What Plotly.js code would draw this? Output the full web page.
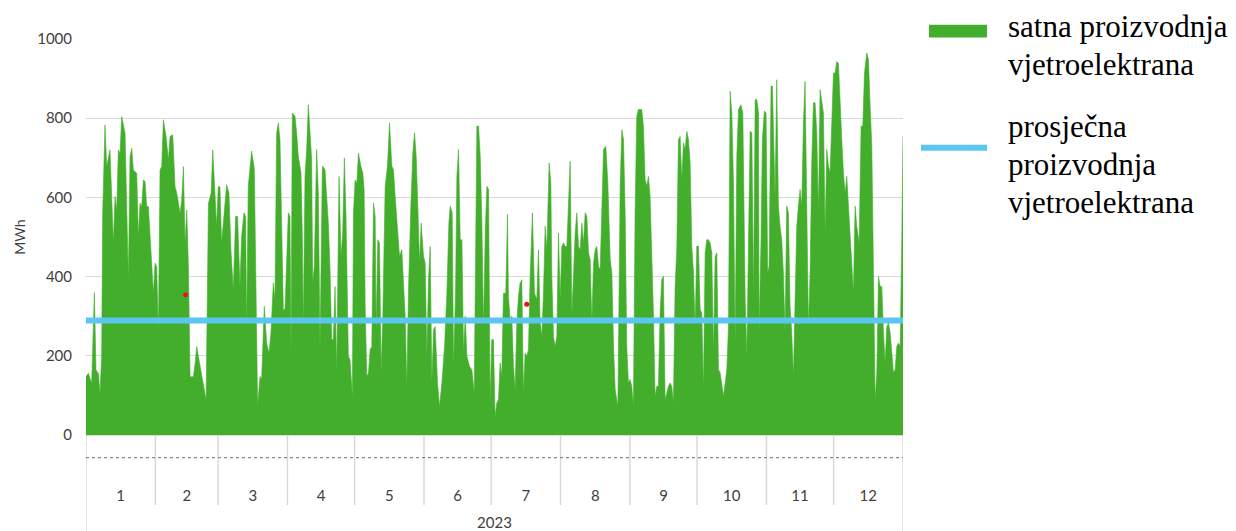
<!DOCTYPE html>
<html>
<head>
<meta charset="utf-8">
<script src="https://cdn.plot.ly/plotly-3.0.1.min.js"></script>
<style>html,body{margin:0;padding:0;background:#fff;}#chart{width:1236px;height:531px;}</style>
</head>
<body>
<div id="chart"></div>
<script>
// ---- data ----
const dayOfYear = [
0,1.04,2.53,3.28,3.73,4.47,5.51,6.26,7.0,7.45,8.49,9.24,10.73,12.22,12.97,13.71,14.46,15.2,15.95,17.44,18.18,18.93,19.67,20.42,21.16,21.91,22.65,23.4,24.14,24.89,25.63,26.38,27.12,27.87,28.61,29.36,30.1,30.85,
31.59,32.34,33.08,33.83,34.58,35.77,36.81,37.56,38.75,39.79,40.54,42.03,42.77,43.52,44.26,45.01,45.75,46.5,47.99,48.73,49.48,50.22,50.97,52.46,53.65,54.7,55.89,56.63,57.68,
58.35,59.09,59.84,60.58,61.33,62.82,63.86,64.75,65.8,66.84,67.73,68.78,69.52,70.57,71.31,71.76,72.5,73.99,75.19,75.93,76.68,77.72,78.46,79.66,80.7,81.74,82.64,83.68,84.43,85.17,85.92,86.66,87.41,88.15,88.9,89.64,
90.39,91.13,91.58,92.17,93.37,94.11,94.86,96.05,96.65,97.09,97.84,98.58,99.33,100.82,101.27,102.01,103.05,103.8,104.54,105.59,106.78,108.27,109.02,109.76,110.51,111.25,112,113.04,113.93,114.68,115.42,116.17,117.21,117.96,119,
119.49,120.24,120.98,121.73,122.77,123.66,124.26,124.71,125.45,126.2,126.94,127.69,128.43,129.18,129.62,130.37,131.11,131.86,132.6,133.65,134.69,135.59,136.63,137.37,138.12,138.86,140.06,141.1,141.84,142.59,143.33,144.08,145.12,146.02,146.76,147.51,148.25,149,149.74,150.79,
151.53,152.28,153.02,153.77,154.51,155.26,156,157.05,157.94,158.98,160.18,161.22,162.11,162.71,163.6,164.2,165.09,165.69,166.44,167.18,167.93,168.67,169.42,170.16,171.35,172.38,173.44,173.89,174.63,175.38,176.12,176.87,177.61,178.36,179.1,179.85,
180.54,181.28,182.03,182.77,183.52,184.26,185.01,185.75,186.5,187.54,188.29,188.73,189.48,190.22,190.97,191.71,192.46,193.2,193.95,194.69,195.44,196.18,196.93,197.67,198.42,199.46,200.36,201.4,202.15,202.89,203.64,204.38,205.13,205.87,206.91,207.66,208.11,208.85,209.6,210.34,211.09,211.83,
212.58,213.32,214.07,214.81,215.56,216.3,217.05,217.79,218.54,219.28,220.03,220.77,221.52,222.26,223.01,223.75,224.5,225.24,225.99,226.73,227.48,228.22,228.97,229.71,230.46,231.21,232.25,233.14,234.19,234.93,235.68,236.42,237.61,238.66,239.4,240.15,240.89,
241.58,242.33,243.07,243.82,244.56,245.31,246.05,246.8,248.29,249.03,249.78,250.52,251.27,252.01,252.76,253.5,254.25,254.99,255.74,256.48,257.23,257.97,258.72,259.46,260.21,260.95,261.7,262.44,263.19,263.93,264.68,265.43,266.17,266.92,267.66,268.41,269.15,269.9,270.64,271.39,272.13,
272.88,273.62,274.37,275.11,275.86,276.6,277.35,278.09,278.84,279.58,280.33,281.07,281.82,282.56,283.31,284.05,284.8,285.54,286.29,287.03,287.78,288.52,289.27,290.01,290.76,291.51,292.55,293.44,294.04,294.49,295.23,295.98,296.72,297.47,298.21,298.96,299.7,300.45,
300.69,301.58,302.18,303.07,303.82,304.56,305.16,306.05,306.65,307.1,307.84,308.59,309.33,310.08,310.82,311.57,312.31,313.06,313.8,314.55,315.29,316.04,316.78,317.53,318.27,319.02,319.76,320.51,321.25,322,322.74,323.49,324.23,324.98,325.73,326.47,327.22,327.96,328.71,329.45,330.2,330.94,331.69,332.43,333.18,
333.92,334.67,335.41,336.16,336.9,337.65,338.39,339.14,339.88,340.63,341.37,342.12,342.86,343.61,344.35,345.4,346.29,347.04,347.78,348.82,349.57,350.32,351.06,351.81,352.55,353.3,354.04,354.79,355.53,356.28,357.02,357.77,358.51,359.26,360,360.75,361.49,362.24,362.98,363.73,364.47,365
];
const hourlyMWh = [
147,156,130,300,360,164,155,105,198,560,783,678,720,484,602,568,720,711,804,762,594,392,703,724,669,665,661,501,585,577,644,640,577,577,509,434,358,434,
425,257,669,678,796,754,695,754,758,627,611,560,594,678,484,568,425,147,147,181,223,198,173,122,88,585,611,720,602,
527,627,627,485,535,632,611,468,367,552,552,375,502,561,552,266,628,717,674,409,72,148,140,325,232,207,258,384,342,763,788,746,519,317,317,451,
561,552,199,813,805,763,704,662,502,266,653,721,834,695,384,426,721,611,216,679,670,535,418,241,241,375,157,653,451,510,700,552,199,190,98,
561,644,636,712,679,662,620,325,148,157,216,223,586,552,266,493,485,157,300,628,679,788,679,670,603,535,451,468,367,300,123,367,578,712,763,704,578,434,535,451,
434,199,392,476,131,266,274,131,72,131,223,358,535,578,561,173,358,653,721,493,493,207,300,199,173,165,106,451,780,780,704,535,266,510,628,620,
81,241,241,47,81,89,182,148,358,358,557,350,291,300,173,115,283,350,384,392,106,207,199,216,400,561,358,342,468,283,249,358,527,468,687,636,400,249,223,249,510,342,
476,485,476,476,578,691,300,400,510,561,476,468,535,485,561,552,460,443,283,434,468,476,426,418,603,721,729,636,443,409,223,115,72,636,771,746,552,
224,131,140,123,72,561,805,822,822,780,645,628,653,603,477,308,98,123,123,308,392,401,89,106,123,131,123,81,375,468,746,754,645,738,721,767,746,687,477,409,274,
477,477,317,308,115,460,493,493,485,460,207,451,460,165,157,131,98,131,165,274,868,813,637,232,704,822,834,813,586,342,199,561,767,763,350,847,847,813,
258,493,746,818,813,409,426,881,881,780,603,897,578,527,493,409,258,578,561,325,258,148,359,527,578,620,578,788,893,578,274,409,687,839,839,763,561,872,839,813,510,721,679,662,788,
914,914,943,939,830,746,662,611,653,578,493,409,359,578,527,485,780,780,914,965,948,830,729,409,89,157,400,375,375,258,182,274,283,258,216,157,165,224,232,224,502,754
];
const averageMWh = 289;
const monthStartDays = [0,31,59,90,120,151,181,212,243,273,304,334,365];
const monthLabels = ['1','2','3','4','5','6','7','8','9','10','11','12'];
const yearLabel = '2023';
const markerDays = [44.5, 196.9];
const markerMWh = [354, 330];
const seriesNames = ['satna proizvodnja vjetroelektrana', 'prosječna proizvodnja vjetroelektrana'];
const legendLines1 = ['satna proizvodnja', 'vjetroelektrana'];
const legendLines2 = ['prosječna', 'proizvodnja', 'vjetroelektrana'];

// ---- styles ----
const GREEN = '#43ae2b';
const BLUE = '#5bc6f0';
const GRID = '#d9d9d9';
const TXT = '#404040';
const axisFont = {family: 'Lato, "Open Sans", sans-serif', size: 15, color: TXT};
const legendFont = {family: '"Liberation Serif", "Times New Roman", serif', size: 31, color: '#000'};

const monthCenters = monthLabels.map((_, i) => (monthStartDays[i] + monthStartDays[i + 1]) / 2);
const xEnd = monthStartDays[monthStartDays.length - 1];

const traces = [
  {x: dayOfYear, y: hourlyMWh, type: 'scatter', mode: 'lines', name: seriesNames[0],
   fill: 'tozeroy', fillcolor: GREEN, line: {color: GREEN, width: 0.6}, showlegend: false},
  {x: [0, xEnd], y: [averageMWh, averageMWh], type: 'scatter', mode: 'lines', name: seriesNames[1],
   line: {color: BLUE, width: 6}, showlegend: false},
  {x: markerDays, y: markerMWh, type: 'scatter', mode: 'markers',
   marker: {color: '#e8141c', size: 5}, showlegend: false}
];

const shapes = [];
monthStartDays.forEach((d, i) => {
  const edge = (i === 0 || i === monthStartDays.length - 1);
  shapes.push({type: 'line', xref: 'x', yref: 'paper', x0: d, x1: d, y0: 0, y1: edge ? -0.245 : -0.177,
               line: {color: GRID, width: 1.5}});
});
shapes.push({type: 'line', xref: 'x', yref: 'paper', x0: 0, x1: xEnd, y0: -0.0573, y1: -0.0573,
             line: {color: '#6e6e6e', width: 1, dash: 'dot'}});
// legend keys
shapes.push({type: 'rect', xref: 'paper', yref: 'paper', x0: 1.0318, x1: 1.1028, y0: 1.0036, y1: 1.0361,
             fillcolor: GREEN, line: {width: 0}});
shapes.push({type: 'line', xref: 'paper', yref: 'paper', x0: 1.0220, x1: 1.1028, y0: 0.7255, y1: 0.7255,
             line: {color: BLUE, width: 6}});

const annotations = [];
const legendYs1 = [1.0311, 0.9351];
const legendYs2 = [0.7785, 0.6826, 0.5866];
legendLines1.forEach((t, i) => annotations.push({text: t, xref: 'paper', yref: 'paper', x: 1.1261, y: legendYs1[i],
  xanchor: 'left', yanchor: 'middle', showarrow: false, font: legendFont}));
legendLines2.forEach((t, i) => annotations.push({text: t, xref: 'paper', yref: 'paper', x: 1.1261, y: legendYs2[i],
  xanchor: 'left', yanchor: 'middle', showarrow: false, font: legendFont}));

const layout = {
  width: 1236, height: 531,
  margin: {l: 86, r: 333, t: 39, b: 96, pad: 0},
  paper_bgcolor: '#fff', plot_bgcolor: '#fff',
  showlegend: false,
  xaxis: {range: [0, xEnd], showgrid: false, zeroline: false, showline: true, linecolor: GRID, linewidth: 1,
          tickmode: 'array', tickvals: monthCenters, ticktext: monthLabels, ticks: '',
          ticklabelstandoff: 47, tickfont: axisFont,
          title: {text: yearLabel, font: axisFont, standoff: 14}, fixedrange: true},
  yaxis: {range: [0, 1000], dtick: 200, showgrid: true, gridcolor: GRID, gridwidth: 1, zeroline: false,
          showline: false, ticks: '', ticklabelstandoff: 13, tickfont: axisFont,
          title: {text: 'MWh', font: {family: axisFont.family, size: 14, color: TXT}, standoff: 8}, fixedrange: true},
  shapes: shapes,
  annotations: annotations
};

Plotly.newPlot('chart', traces, layout, {staticPlot: true, displayModeBar: false});
</script>
</body>
</html>
